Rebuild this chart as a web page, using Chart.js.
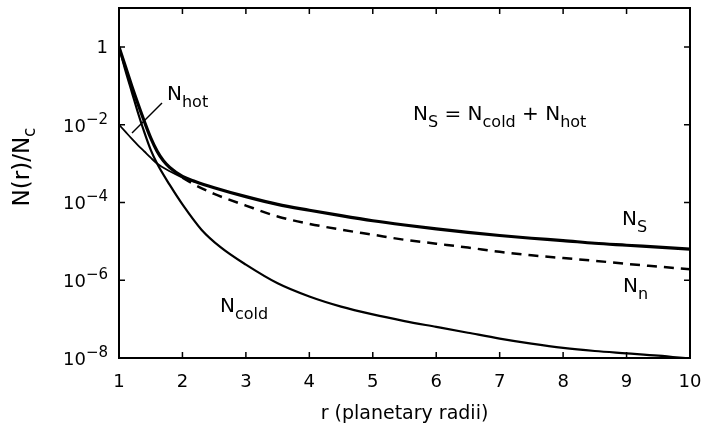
<!DOCTYPE html>
<html lang="en">
<head>
    <meta charset="UTF-8">
    <title>N(r)/Nc</title>
    <script src="https://cdn.jsdelivr.net/npm/chart.js"></script>
    <style>
        body { margin: 0; background: #fff; }
        canvas { display: block; }
    </style>
</head>
<body>
    <canvas id="chart" width="702" height="430"></canvas>
    <script>
        const rCold = [1, 1.1, 1.2, 1.3, 1.4, 1.5, 1.6, 1.8, 2.0, 2.3, 2.6, 3.0, 3.5, 4.0, 4.5, 5.0, 5.5, 6.0, 6.5, 7.0, 7.5, 8.0, 8.5, 9.0, 9.5, 10];
        const coldExp = [0, -0.6, -1.15, -1.7, -2.2, -2.65, -3.0, -3.55, -4.05, -4.7, -5.15, -5.6, -6.08, -6.42, -6.68, -6.88, -7.05, -7.2, -7.35, -7.5, -7.63, -7.74, -7.82, -7.88, -7.94, -8.02];

        const rS = [1, 1.1, 1.2, 1.3, 1.4, 1.5, 1.6, 1.7, 1.8, 2.0, 2.2, 2.5, 3.0, 3.5, 4.0, 4.5, 5.0, 5.5, 6.0, 6.5, 7.0, 7.5, 8.0, 8.5, 9.0, 9.5, 10];
        const sExp = [0, -0.5, -1.0, -1.47, -1.92, -2.34, -2.68, -2.93, -3.1, -3.33, -3.46, -3.62, -3.85, -4.05, -4.2, -4.34, -4.47, -4.58, -4.68, -4.77, -4.85, -4.92, -4.98, -5.05, -5.1, -5.15, -5.2];

        const rHot = [1, 1.1, 1.2, 1.3, 1.4, 1.5, 1.6, 1.8, 2.0, 2.2];
        const hotExp = [-2, -2.18, -2.36, -2.53, -2.69, -2.85, -3.0, -3.2, -3.36, -3.48];

        const rN = [2.0, 2.2, 2.5, 3.0, 3.5, 4.0, 4.5, 5.0, 5.5, 6.0, 6.5, 7.0, 7.5, 8.0, 8.5, 9.0, 9.5, 10];
        const nExp = [-3.36, -3.55, -3.78, -4.08, -4.36, -4.55, -4.7, -4.83, -4.96, -5.06, -5.16, -5.27, -5.36, -5.43, -5.5, -5.58, -5.65, -5.72];

        const xTicks = [1, 2, 3, 4, 5, 6, 7, 8, 9, 10];
        const yTickExp = [0, -2, -4, -6, -8];

        const FONT = '"DejaVu Sans", sans-serif';

        const toPoints = (rs, exps) => rs.map((r, i) => ({ x: r, y: Math.pow(10, exps[i]) }));

        // draws "main" followed by a subscript, returns end x
        function subText(ctx, x, y, main, sub, size, subSize, drop) {
            ctx.font = size + 'px ' + FONT;
            ctx.fillText(main, x, y);
            x += ctx.measureText(main).width;
            ctx.font = subSize + 'px ' + FONT;
            ctx.fillText(sub, x, y + drop);
            return x + ctx.measureText(sub).width;
        }

        const frame = {
            id: 'frame',
            afterDraw(chart) {
                const { ctx, chartArea: { left, right, top, bottom }, scales: { x, y } } = chart;
                ctx.save();
                ctx.strokeStyle = '#000';
                ctx.fillStyle = '#000';
                ctx.lineWidth = 2;
                ctx.strokeRect(left, top, right - left, bottom - top);

                ctx.lineWidth = 1.5;
                ctx.beginPath();
                xTicks.forEach(v => {
                    const px = x.getPixelForValue(v);
                    ctx.moveTo(px, bottom); ctx.lineTo(px, bottom - 6);
                    ctx.moveTo(px, top); ctx.lineTo(px, top + 6);
                });
                yTickExp.forEach(e => {
                    const py = y.getPixelForValue(Math.pow(10, e));
                    ctx.moveTo(left, py); ctx.lineTo(left + 6, py);
                    ctx.moveTo(right, py); ctx.lineTo(right - 6, py);
                });
                ctx.stroke();

                // x tick labels
                ctx.font = '18px ' + FONT;
                ctx.textAlign = 'center';
                ctx.textBaseline = 'alphabetic';
                xTicks.forEach(v => ctx.fillText(String(v), x.getPixelForValue(v), 387));

                // y tick labels with superscript exponent
                ctx.textAlign = 'right';
                yTickExp.forEach(e => {
                    const py = y.getPixelForValue(Math.pow(10, e));
                    if (e === 0) {
                        ctx.font = '18px ' + FONT;
                        ctx.fillText('1', 108, py + 6);
                        return;
                    }
                    const sup = '\u2212' + (-e);
                    ctx.font = '15px ' + FONT;
                    ctx.fillText(sup, 108, py - 1);
                    const w = ctx.measureText(sup).width;
                    ctx.font = '18px ' + FONT;
                    ctx.fillText('10', 108 - w, py + 7);
                });

                // axis titles
                ctx.textAlign = 'center';
                ctx.font = '19px ' + FONT;
                ctx.fillText('r (planetary radii)', (left + right) / 2, 419);

                ctx.save();
                ctx.translate(29, 167);
                ctx.rotate(-Math.PI / 2);
                ctx.textAlign = 'left';
                ctx.font = '23px ' + FONT;
                const w1 = ctx.measureText('N(r)/N').width;
                ctx.font = '17px ' + FONT;
                const w2 = ctx.measureText('c').width;
                subText(ctx, -(w1 + w2) / 2, 0, 'N(r)/N', 'c', 23, 17, 6);
                ctx.restore();

                // curve labels
                ctx.textAlign = 'left';
                subText(ctx, 167, 100, 'N', 'hot', 20, 16, 7);
                subText(ctx, 220, 312, 'N', 'cold', 20, 16, 7);
                subText(ctx, 622, 225, 'N', 'S', 20, 16, 7);
                subText(ctx, 623, 292, 'N', 'n', 20, 16, 7);

                let cx = subText(ctx, 413, 120, 'N', 'S', 20, 16, 7);
                cx = subText(ctx, cx, 120, ' = N', 'cold', 20, 16, 7);
                subText(ctx, cx, 120, ' + N', 'hot', 20, 16, 7);

                // leader line for N_hot
                ctx.lineWidth = 1.5;
                ctx.beginPath();
                ctx.moveTo(162, 103);
                ctx.lineTo(132, 133);
                ctx.stroke();
                ctx.restore();
            }
        };

        const line = (label, data, width, dash) => ({
            label: label,
            data: data,
            borderColor: '#000',
            borderWidth: width,
            borderDash: dash || [],
            pointRadius: 0,
            cubicInterpolationMode: 'monotone',
            fill: false
        });

        new Chart(document.getElementById('chart').getContext('2d'), {
            type: 'line',
            data: {
                datasets: [
                    line('N_S', toPoints(rS, sExp), 3.2),
                    line('N_cold', toPoints(rCold, coldExp), 2.2),
                    line('N_hot', toPoints(rHot, hotExp), 1.8),
                    line('N_n', toPoints(rN, nExp), 2.5, [10, 7])
                ]
            },
            options: {
                responsive: false,
                animation: false,
                layout: { padding: { top: 8, right: 12, left: 0, bottom: 0 } },
                plugins: { legend: { display: false }, tooltip: { enabled: false } },
                scales: {
                    x: {
                        type: 'linear', min: 1, max: 10,
                        ticks: { display: false },
                        grid: { display: false },
                        border: { display: false },
                        afterFit: s => { s.height = 72; }
                    },
                    y: {
                        type: 'logarithmic', min: 1e-8, max: 10,
                        ticks: { display: false },
                        grid: { display: false },
                        border: { display: false },
                        afterFit: s => { s.width = 119; }
                    }
                }
            },
            plugins: [frame]
        });
    </script>
</body>
</html>
